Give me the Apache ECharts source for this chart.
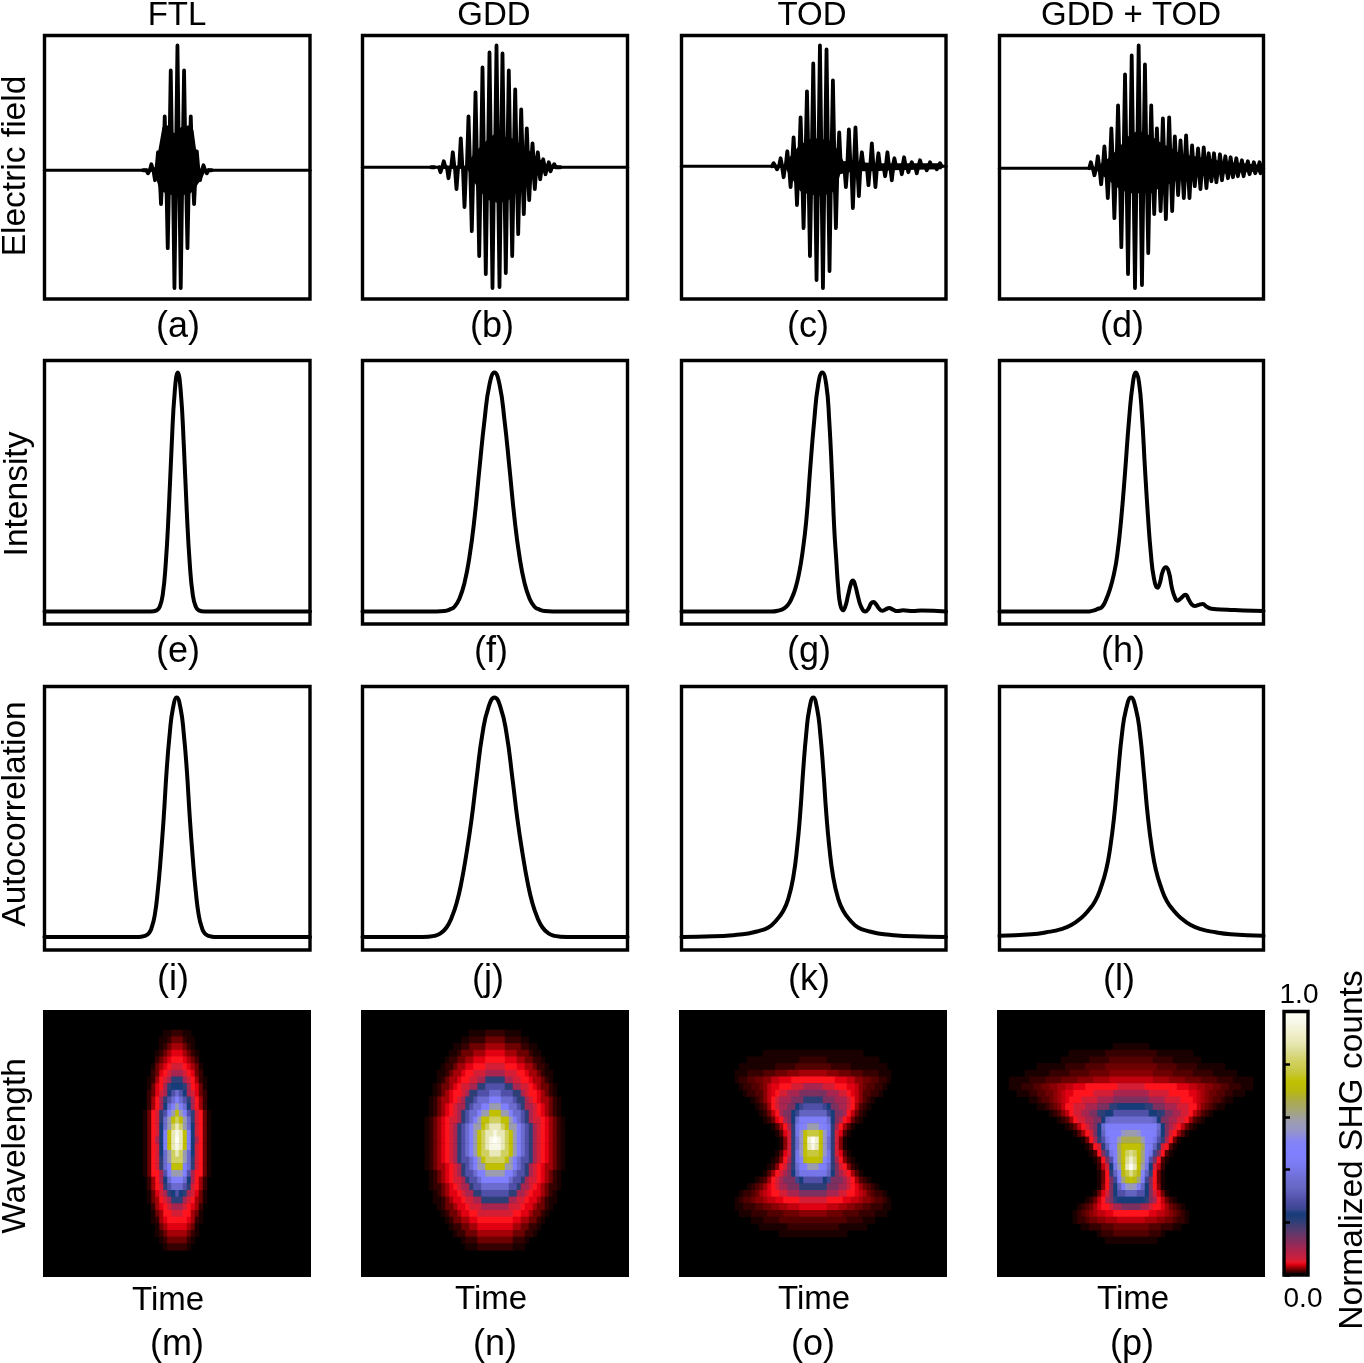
<!DOCTYPE html>
<html><head><meta charset="utf-8">
<style>html,body{margin:0;padding:0;background:#fff}#c{width:1364px;height:1363px}</style>
<script src="https://cdn.jsdelivr.net/npm/echarts@6/dist/echarts.min.js"></script>
</head><body><div id="c"></div>
<script>
// ---- text
const columnTitles=["FTL","GDD","TOD","GDD + TOD"];
const rowTitles=["Electric field","Intensity","Autocorrelation","Wavelength"];
const panelLetters=["(a)","(b)","(c)","(d)","(e)","(f)","(g)","(h)","(i)","(j)","(k)","(l)","(m)","(n)","(o)","(p)"];
const timeLabel="Time";
const colorbarTitle="Normalized SHG counts";
const colorbarEnds=["0.0","1.0"];

// ---- electric field: carrier extrema [time, field]
const fieldFtl=[[100,2],[103.3,-3],[106.7,6],[110.3,-10],[113.3,18],[116.3,-34],[120,54],[123,-78],[126,100],[129.7,-118],[132.7,125],[136,-118],[139.3,100],[142.7,-78],[146,54],[149.3,-34],[152,19],[155.3,-10],[158.7,5],[162,-3],[165.3,2]];
const fieldGdd=[[70.3,2],[78,-5],[81.3,6],[86,-11],[90.3,15],[94,-22],[98.3,29],[102,-40],[106,51],[109.3,-64],[113,75],[116.7,-89],[120,100],[123.3,-107],[127,115],[130,-121],[134,122],[137,-120],[140,114],[143.3,-106],[146.3,97],[149.7,-89],[152.7,78],[155.7,-67],[158.7,58],[161.3,-47],[164.3,39],[166.7,-33],[170,24],[172.3,-22],[175.3,15],[177.7,-12],[180.7,8],[183,-7],[186.3,5],[188,-4],[191.7,3],[196.3,2]];
const fieldTod=[[92.3,3],[95.7,-3],[99.3,8],[102.3,-11],[106,15],[109.3,-21],[112.3,29],[115.7,-39],[119.3,49],[122.3,-62],[125.7,75],[128.7,-90],[132,103],[135.3,-114],[138.7,121],[141.7,-122],[145.3,117],[148.3,-105],[151.7,86],[154.7,-62],[158,34],[164.7,-21],[167.7,37],[171.7,-42],[174.3,39],[177.7,-30],[180.7,14],[187.3,-19],[190.7,23],[194.3,-21],[197.3,13],[204,-10],[206.3,14],[210.7,-14],[213.3,8],[220.7,-8],[223,9],[227.3,-6],[230.7,4],[235.7,-7],[239,6],[245.7,-4],[249,4],[255.7,-3],[259,3]];
const fieldBoth=[[91.7,6],[95.3,-7],[98.7,12],[102,-16],[105.3,22],[108.7,-30],[112.3,40],[115.3,-50],[119,63],[122.3,-79],[126,94],[129,-106],[132.7,113],[136,-120],[139.7,123],[143,-117],[146,104],[149.3,-85],[152.3,63],[155.3,-46],[158,40],[161.7,-43],[164,50],[167,-51],[170.3,51],[173.3,-43],[176,32],[179.3,-27],[181.7,28],[185,-30],[187.3,33],[190.7,-30],[193.3,23],[196,-18],[199.3,20],[201.7,-21],[205,21],[207.7,-20],[210,15],[212.7,-13],[215.3,15],[217.7,-14],[221.3,14],[223.3,-12],[226.7,12],[229.3,-10],[232,11],[234.3,-9],[237.7,10],[239.3,-8],[243.3,8],[245,-8],[249.3,7],[251,-6],[255.3,6],[256.7,-5],[261,6],[262,-5]];
// ---- electric field: solid core envelope [time, field]
const coreUpFtl=[[108,0],[111,5],[117.7,43],[122.7,45],[129.3,37],[136,43],[144.3,45],[148.7,40],[152.7,10],[156,0]];
const coreLowFtl=[[108,0],[111,-7],[115,-20],[121,-23],[127.7,-25],[137.7,-25],[146,-23],[151,-17],[157.7,-7],[161,0]];
const coreUpGdd=[[104,0],[108,9],[116.3,19],[126.3,29],[133,34],[139.7,31],[149.7,29],[159.7,22],[169.7,14],[179.7,6],[185,0]];
const coreLowGdd=[[104,0],[108,-8],[116.3,-23],[126.3,-33],[136.3,-36],[146.3,-33],[156.3,-23],[166.3,-13],[176.3,-4],[180,0]];
const coreUpTod=[[103,0],[109,10],[117.3,20],[127.3,27],[137.3,28],[150.7,25],[157.3,15],[162.3,5],[170.7,6],[180.7,4],[194,3],[210.7,3],[260.7,3]];
const coreLowTod=[[103,0],[109,-10],[119,-25],[127.3,-28],[140.7,-30],[154,-25],[159,-8],[167.3,-6],[180.7,-5],[194,-5],[210.7,-4],[260.7,-3]];
const coreUpBoth=[[95,0],[99.3,3],[109.3,10],[119.3,20],[129.3,32],[139.3,38],[152.7,32],[162.7,25],[172.7,20],[182.7,14],[196,12],[212.7,9],[229.3,6],[246,5],[262.7,3]];
const coreLowBoth=[[95,0],[99.3,-4],[109.3,-12],[119.3,-20],[129.3,-25],[139.3,-25],[152.7,-25],[162.7,-18],[172.7,-15],[182.7,-10],[196,-8],[212.7,-7],[229.3,-5],[246,-4],[262.7,-3]];

// ---- intensity [time, normalised]
const intensityFtl=[[0,0],[106,0],[112,.005],[115,.02],[118,.07],[121,.2],[124,.42],[127,.7],[130,.92],[133,1],[136,.92],[139,.7],[142,.42],[145,.2],[148,.07],[151,.02],[154,.005],[160,0],[265,0]];
const intensityGdd=[[0,0],[74,0],[82,.002],[87,.008],[92,.02],[97,.055],[102,.12],[107,.23],[112,.39],[117,.6],[122,.8],[127,.95],[132,1],[137,.95],[142,.8],[147,.6],[152,.39],[157,.23],[162,.12],[167,.055],[172,.02],[177,.008],[182,.002],[190,0],[265,0]];
const intensityTod=[[0,0],[90,0],[97,.004],[103,.014],[107,.03],[110,.052],[114,.095],[118,.165],[121,.24],[125,.38],[129,.6],[133,.8],[137,.95],[141,1],[145,.95],[148,.8],[151,.55],[153,.35],[155,.22],[157,.1],[159,.03],[161.7,.005],[164,.02],[167,.07],[170,.12],[171.7,.13],[174,.11],[177,.06],[180,.02],[184,0],[187,.01],[190,.035],[192.3,.04],[195,.03],[198,.012],[201,.003],[205,.01],[208,.015],[212,.008],[216,.002],[222,.005],[232,.002],[240,.004],[265,0]];
const intensityBoth=[[0,0],[88,0],[93,.003],[98,.01],[103,.02],[107,.05],[111,.095],[115,.16],[118,.23],[122,.38],[126,.58],[130,.8],[134,.96],[137,1],[140,.96],[143,.82],[146,.6],[149,.4],[152,.24],[155,.14],[158.7,.1],[161,.12],[164,.17],[167,.185],[170,.165],[173,.1],[176,.06],[178.7,.045],[182,.055],[186.7,.07],[190,.05],[193,.03],[196,.023],[200,.028],[204,.032],[208,.02],[212.7,.012],[229,.008],[245,.004],[265,.002]];

// ---- autocorrelation [delay, normalised]
const autocorrFtl=[[0,0],[94,0],[100,.005],[104,.015],[107,.04],[110,.09],[113,.19],[116,.33],[119,.5],[122,.7],[125,.85],[128,.95],[132,1],[136,.95],[139,.85],[142,.7],[145,.5],[148,.33],[151,.19],[154,.09],[157,.04],[160,.015],[164,.005],[170,0],[265,0]];
const autocorrGdd=[[0,0],[60,0],[72,.005],[78,.015],[84,.04],[89,.08],[94,.14],[99,.23],[104,.35],[109,.49],[114,.66],[120,.85],[126,.96],[132,1],[138,.96],[144,.85],[150,.66],[155,.49],[160,.35],[165,.23],[170,.14],[175,.08],[180,.04],[186,.015],[192,.005],[204,0],[265,0]];
const autocorrTod=[[0,0],[32,.003],[52,.008],[67,.015],[77,.025],[87,.04],[95,.07],[102,.11],[107,.16],[112,.25],[116,.38],[119,.52],[122,.7],[125,.85],[128,.95],[132,1],[136,.95],[139,.85],[142,.7],[145,.52],[148,.38],[152,.25],[157,.16],[162,.11],[169,.07],[177,.04],[187,.025],[197,.015],[212,.008],[232,.003],[265,0]];
const autocorrBoth=[[0,.005],[32,.012],[47,.02],[62,.033],[72,.05],[82,.08],[89,.11],[96,.15],[102,.21],[107,.28],[111,.37],[115,.5],[119,.68],[123,.85],[127,.95],[132,1],[137,.95],[141,.85],[145,.68],[149,.5],[153,.37],[157,.28],[162,.21],[168,.15],[175,.11],[182,.08],[192,.05],[202,.033],[217,.02],[232,.012],[265,.005]];

// ---- FROG traces: one string per wavelength row, one character per time column, from the centre column outward
const levelChars="0123456789abcdefghijklmnopqrstuvwxyz";
const levelValues=[0,.005,.01,.015,.02,.025,.03,.035,.04,.045,.055,.098,.135,.205,.234,.25,.286,.323,.36,.398,.436,.473,.51,.548,.586,.623,.66,.698,.736,.773,.811,.849,.887,.924,.962,1];
const frogFtl=["","","","2211","44211","66421","886421","998642","aa98641","bba9842","ddba9621","eedb9841","igeba842","ligdb962","olieb962","solgda941","usoida941","wuoiea941","ywslea941","zwsleb941","ywslea941","wuoiea941","uuoida941","sslida941","oolgb9941","llieb962","iigda962","gedba841","ddba9641","bba9862","aa99641","9998621","888641","666421","44421","2221"];
const frogGdd=["","","","2221111","444222211","66644442211","888666444211","9998886644221","aaa99988664221","bbbaaa998664211","dddbbaa99866421","gggddbbaa9864421","iigggddba9986421","lliiigddba9866421","oolliigdbba986421","ssooliigdba986421","uussoligdbaa986421","wwusooligdba986421","ywwusoligdba986421","zywusoligdba986421","yywusoligdba986421","wwuusoligdba986421","uuusoliggdba986421","sssooligdba9866421","ooolliggdba986421","lllliggdbaa986421","iiiiggdbba9864221","ggggddbba9886421","ddddbbaa98864211","bbbbaaa98864421","aaaaa998864421","9999988664421","888886644221","66666444221","444442221","22222111"];
const frogTod=["","","","","","","1111111111111","22221111111111111","3333322222111111111","66665554443332222111","99999988877554433221","bbbaaa9998875433221","ccccbbbaa987533221","dddcccbbba975321","gggfeccbba96321","hhhhfeccb97421","kkkkiecb98421","oomljdb9631","ttsnjda831","zxsnida51","ywsnida51","ttsnjda831","ssrmjdb9521","oolkidca9521","jjjjhecba9631","gggefcccba96321","ddddcccbba9864321","ccccbbbaa9987643221","aaaa9999887765543321","88887776655443322211","5555444433332222111","3333333332222111","22222221111111","111111111"];
const frogBoth=["","","","","","11111","2222222111111111","333333222221111111","444444433333222221111111","555555444443333322222111111","7777776666555544443333222211111","aaaa999999998887766554433222111","bbbbbaaaaa9999988765443322111","cccccbbbbaaaa9998765433211","eeeeddcccbbbaaa997543211","gggggeeddccbbaa975321","iiiiiiheccbbaa96321","kkkkkkkiecba97421","oonlllkheca9631","qqqolljgdb941","sssqlkhda931","vuspljfc931","xvspkgc931","zwsojea72","vtrmhd941","srpkfc941","onkhec951","hhggeca841","eeeedcb97421","cccbba99864321","999998877654321","777766655443221","4444433322211","333332221","1111111"];

// ---- colour ramp of the SHG scale
const rampStops=[[0,"#000000"],[.005,"#1b0000"],[.01,"#360000"],[.015,"#520000"],[.02,"#6d0000"],[.025,"#880004"],[.03,"#a40008"],[.035,"#c0000c"],[.04,"#e00012"],[.045,"#ff141e"],[.055,"#d41e36"],[.098,"#a82450"],[.135,"#7c3060"],[.175,"#503c70"],[.21,"#283f78"],[.234,"#143c78"],[.25,"#3c4690"],[.286,"#5050a8"],[.323,"#6464c0"],[.36,"#6c6cd0"],[.398,"#7676e8"],[.436,"#7e7ef8"],[.473,"#8080ff"],[.51,"#8484f4"],[.548,"#9696c8"],[.586,"#9c9cb0"],[.623,"#a4a478"],[.66,"#aaaa50"],[.698,"#b8b810"],[.736,"#c0c000"],[.773,"#c8c840"],[.811,"#d0d060"],[.849,"#dcdc90"],[.887,"#e8e8b8"],[.924,"#f0f0d0"],[.962,"#f8f8e8"],[1,"#fffff8"]];

// ---- layout
const colLeft=[44.5,362.5,681.5,999.5], colWidth=[265.5,265,264.5,264];
const rowTop=[35.5,360.5,686.5], rowHeight=263.5;
const frogLeft=[43,361,679,997], frogTop=1010, frogW=268, frogH=267;
const frogCols=67, frogRows=40, frogCentre=33;
const fieldRange=[[-129,135],[-132,132],[-133,131],[-131,133]];
const intensityRange=[-.052,1.05], autocorrRange=[-.054,1.046];
const FONT="'Liberation Sans',Arial,Helvetica,sans-serif";
const STEM_W=3.8, STEM_TAPER=1.6, TRACE_W=4, FRAME_W=3.4;

function hex(c){return [1,3,5].map(i=>parseInt(c.substr(i,2),16));}
function palette(){const out=[];for(let n=0;n<=200;n++){const v=n/200;let j=0;while(j<rampStops.length-2&&rampStops[j+1][0]<v)j++;
  const [a,ca]=rampStops[j],[b,cb]=rampStops[j+1];const f=Math.min(1,(v-a)/(b-a));const A=hex(ca),B=hex(cb);
  out.push("rgb("+A.map((x,i)=>Math.round(x+(B[i]-x)*f)).join(",")+")");}return out;}
function stems(peaks){const d=[];peaks.forEach(p=>{d.push([p[0]-STEM_TAPER,0],p,[p[0]+STEM_TAPER,0],[p[0]+STEM_TAPER,null]);});return d;}
function frogCells(rows){const d=[];rows.forEach((s,r)=>{[...s].forEach((ch,k)=>{const v=levelValues[levelChars.indexOf(ch)];if(!v)return;
  d.push([frogCentre+k,r,v]);if(k)d.push([frogCentre-k,r,v]);});});return d;}

const grids=[],xAxes=[],yAxes=[],series=[],heatIdx=[];
function addGrid(g,x,y){grids.push(g);xAxes.push(Object.assign({gridIndex:grids.length-1,show:false},x));yAxes.push(Object.assign({gridIndex:grids.length-1,show:false},y));return grids.length-1;}
const frame=(i,r)=>({left:colLeft[i],width:colWidth[i],top:rowTop[r],height:rowHeight,show:true,borderColor:"#000",borderWidth:FRAME_W,backgroundColor:"#fff"});
const lineBase=(g,data,w)=>({type:"line",xAxisIndex:g,yAxisIndex:g,data,symbol:"none",silent:true,animation:false,connectNulls:false,lineStyle:{color:"#000",width:w,cap:"round",join:"round"}});

[[fieldFtl,coreUpFtl,coreLowFtl],[fieldGdd,coreUpGdd,coreLowGdd],[fieldTod,coreUpTod,coreLowTod],[fieldBoth,coreUpBoth,coreLowBoth]].forEach((p,i)=>{
  const g=addGrid(frame(i,0),{type:"value",min:0,max:265},{type:"value",min:fieldRange[i][0],max:fieldRange[i][1]});
  series.push(lineBase(g,[[0,0],[265,0]],3.2));
  series.push(lineBase(g,stems(p[0]),STEM_W));
  [p[1],p[2]].forEach(c=>{const s=lineBase(g,c,0);s.areaStyle={color:"#000",opacity:1,origin:0};series.push(s);});
});
[intensityFtl,intensityGdd,intensityTod,intensityBoth].forEach((d,i)=>{
  const g=addGrid(frame(i,1),{type:"value",min:0,max:265},{type:"value",min:intensityRange[0],max:intensityRange[1]});
  const s=lineBase(g,d,TRACE_W);s.smooth=.5;series.push(s);
});
[autocorrFtl,autocorrGdd,autocorrTod,autocorrBoth].forEach((d,i)=>{
  const g=addGrid(frame(i,2),{type:"value",min:0,max:265},{type:"value",min:autocorrRange[0],max:autocorrRange[1]});
  const s=lineBase(g,d,TRACE_W);s.smooth=.5;series.push(s);
});
const idx=n=>Array.from({length:n},(_,i)=>i);
[frogFtl,frogGdd,frogTod,frogBoth].forEach((rows,i)=>{
  const g=addGrid({left:frogLeft[i],top:frogTop,width:frogW,height:frogH,show:true,borderWidth:0,backgroundColor:"#000"},
    {type:"category",data:idx(frogCols)},{type:"category",data:idx(frogRows),inverse:true});
  heatIdx.push(series.length);
  series.push({type:"heatmap",xAxisIndex:g,yAxisIndex:g,data:frogCells(rows),silent:true,animation:false,progressive:0,itemStyle:{borderWidth:0}});
});
// colorbar frame and ticks
const cb=addGrid({left:1284,top:1011.5,width:24,height:263.5,show:true,borderColor:"#000",borderWidth:FRAME_W,backgroundColor:"transparent",z:6},
  {type:"value",min:0,max:1},
  {show:true,type:"value",min:0,max:1,interval:.2,position:"right",z:6,axisLine:{show:false},splitLine:{show:false},axisLabel:{show:false},axisTick:{show:true,length:6,lineStyle:{color:"#000",width:2.5}}});

const T=(text,x,y,size,rot)=>({type:"text",x,y,rotation:rot||0,silent:true,z:20,style:{text,x:0,y:0,fill:"#000",font:size+"px "+FONT,textAlign:"center",textVerticalAlign:"middle"}});
const R=Math.PI/2;
const titleX=[177,494,812,1131];
const letterPos=[[178,327],[492,327],[808,327],[1122,327],[178,652],[491,652],[809,652],[1123,652],[173,980],[488,980],[809,980],[1119,980],[177,1345],[495,1345],[813,1345],[1132,1345]];
const timePos=[[168,1301],[491,1300],[814,1300],[1133,1300]];
const rowTitlePos=[[16,166],[18,494],[16,814],[16,1146]];
const graphics=[];
columnTitles.forEach((t,i)=>graphics.push(T(t,titleX[i],16,33)));
panelLetters.forEach((t,i)=>graphics.push(T(t,letterPos[i][0],letterPos[i][1],36)));
timePos.forEach(p=>graphics.push(T(timeLabel,p[0],p[1],33)));
rowTitles.forEach((t,i)=>graphics.push(T(t,rowTitlePos[i][0],rowTitlePos[i][1],33.5,R)));
graphics.push(T(colorbarTitle,1353,1150,33.5,R));
graphics.push(T(colorbarEnds[1],1299,995,28));
graphics.push(T(colorbarEnds[0],1303,1299,28));

const chart=echarts.init(document.getElementById("c"),null,{renderer:"canvas",width:1364,height:1363});
chart.setOption({animation:false,backgroundColor:"#fff",grid:grids,xAxis:xAxes,yAxis:yAxes,series,
  visualMap:[{type:"continuous",show:true,min:0,max:1,seriesIndex:heatIdx,dimension:2,calculable:false,realtime:false,hoverLink:false,
    left:1285,top:1012,itemWidth:22,itemHeight:263,text:null,showLabel:false,padding:0,inRange:{color:palette()},z:4}],
  graphic:graphics});
</script></body></html>
